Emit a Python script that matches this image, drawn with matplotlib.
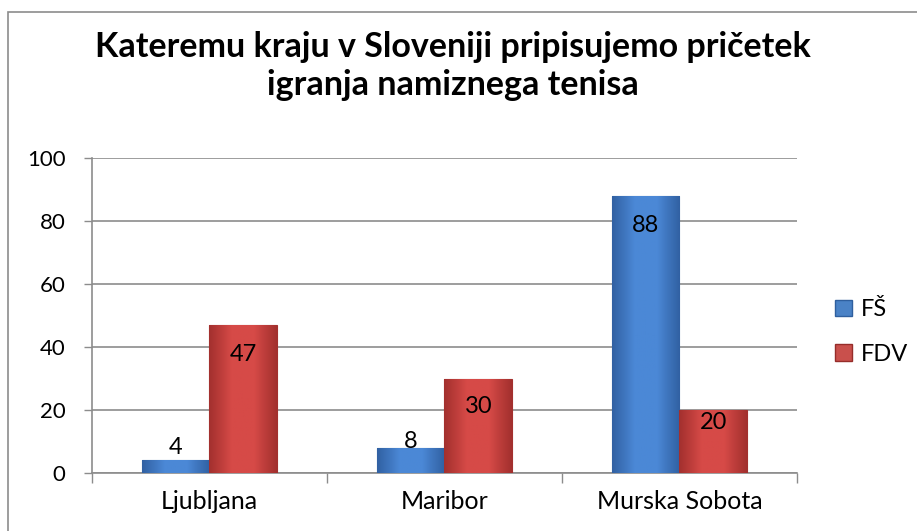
import matplotlib
matplotlib.use('Agg')
import matplotlib.pyplot as plt
import numpy as np
from matplotlib.patches import Rectangle

categories = ['Ljubljana', 'Maribor', 'Murska Sobota']
series_names = ['FŠ', 'FDV']
fs_values = [4, 8, 88]
fdv_values = [47, 30, 20]
y_ticks = [0, 20, 40, 60, 80, 100]
title = 'Kateremu kraju v Sloveniji pripisujemo pričetek\nigranja namiznega tenisa'

plt.rcParams['font.family'] = ['Lato', 'DejaVu Sans']

fig = plt.figure(figsize=(9.17, 5.31), dpi=100)
ax = fig.add_axes([0.1003, 0.1092, 0.7687, 0.5932])

# chart frame
fig.patches.append(Rectangle((8 / 917, -0.1), 1.2, 1 - 12 / 531 + 0.1, transform=fig.transFigure,
                             fill=False, edgecolor='#8c8c8c', linewidth=1.2))

x = np.arange(len(categories))
w = 0.288


def gradient_bar(ax, xc, height, edge, mid):
    # dark sides, lighter middle
    bar = ax.bar(xc, height, width=w, color=mid, edgecolor=edge, linewidth=0.8, zorder=3)[0]
    cmap = matplotlib.colors.LinearSegmentedColormap.from_list('g', [edge, mid, mid, edge])
    grad = np.linspace(0, 1, 64).reshape(1, -1)
    im = ax.imshow(grad, cmap=cmap, aspect='auto', zorder=3.5,
                   extent=[xc - w / 2, xc + w / 2, 0, height])
    im.set_clip_path(bar)
    return bar


for i in range(len(categories)):
    gradient_bar(ax, x[i] - w / 2, fs_values[i], '#3161a3', '#4b88d6')
    gradient_bar(ax, x[i] + w / 2, fdv_values[i], '#a3302e', '#d64a47')

# data labels
for i in range(len(categories)):
    for xc, v in ((x[i] - w / 2, fs_values[i]), (x[i] + w / 2, fdv_values[i])):
        pos = max(v - 9.5, v / 2 + 6)
        ax.text(xc, pos, str(v), ha='center', va='center', fontsize=17, zorder=5)

ax.set_xlim(-0.5, len(categories) - 0.5)
ax.set_ylim(0, 100)
ax.set_yticks(y_ticks)
ax.set_yticklabels([str(t) for t in y_ticks], fontsize=16)
ax.set_xticks(x)
ax.set_xticklabels(categories, fontsize=18)
ax.tick_params(axis='x', length=0, pad=12)
ax.tick_params(axis='y', length=6, width=1, color='#8c8c8c', pad=13)
ax.set_xticks(np.arange(len(categories) + 1) - 0.5, minor=True)
ax.tick_params(axis='x', which='minor', length=7, width=1, color='#8c8c8c')

ax.grid(axis='y', color='#8c8c8c', linewidth=1.2, zorder=0)
ax.set_axisbelow(True)
for s in ['top', 'right']:
    ax.spines[s].set_visible(False)
for s in ['left', 'bottom']:
    ax.spines[s].set_color('#8c8c8c')
    ax.spines[s].set_linewidth(1.2)

handles = [Rectangle((0, 0), 1, 1, facecolor='#4a82c6', edgecolor='#2f5f9e'),
           Rectangle((0, 0), 1, 1, facecolor='#c9504c', edgecolor='#962d2a')]
fig.legend(handles, series_names, loc='center left', bbox_to_anchor=(0.911, 0.375),
           frameon=False, fontsize=17, handlelength=0.7, handleheight=0.7,
           handletextpad=0.4, labelspacing=1.0, borderpad=0, borderaxespad=0)

fig.text(0.494, 0.876, title, ha='center', va='center', fontsize=24.5, fontweight='bold',
         linespacing=1.25)

plt.savefig('out.png', dpi=100)
